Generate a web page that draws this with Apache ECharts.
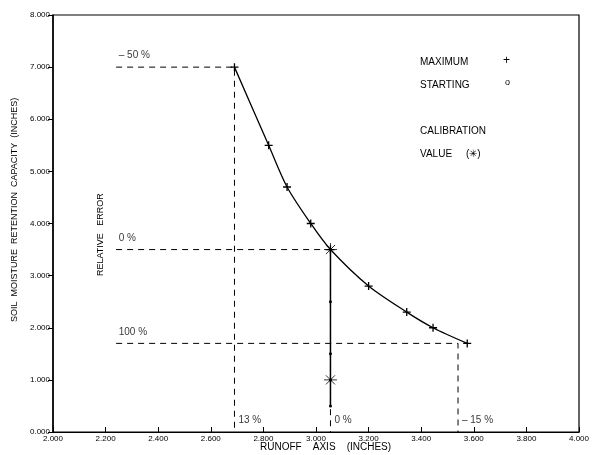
<!DOCTYPE html>
<html>
	<head>
		<meta charset="utf-8">
		<script src="https://cdn.jsdelivr.net/npm/echarts@6/dist/echarts.min.js"></script>
		<title></title>
		<style>
			body { margin: 0; background: #fff; }
		</style>
	</head>
	<body>
		<div id="main" style="width: 593px;height:455px;"></div>
		<script type="text/javascript">
			// maximum (+) curve
			var maxRunoff = [2.69, 2.82, 2.89, 2.98, 3.055, 3.20, 3.345, 3.445, 3.575];
			var maxCapacity = [7.0, 5.5, 4.7, 4.0, 3.5, 2.8, 2.3, 2.0, 1.7];
			// starting (o) values
			var startRunoff = [3.055, 3.055, 3.055, 3.055, 3.055];
			var startCapacity = [3.5, 2.5, 1.5, 1.0, 0.5];
			// calibration value (*)
			var calibRunoff = [3.055, 3.055];
			var calibCapacity = [3.5, 1.0];
			// relative error guide lines: start of horizontal, level, corner runoff
			var guideLevel = [7.0, 3.5, 1.7];
			var guideCorner = [2.69, 3.055, 3.54];
			var guideStart = 2.24;
			var levelLabels = ['\u2013 50 %', '0 %', '100 %'];
			var cornerLabels = ['13 %', '0 %', '\u2013 15 %'];

			var font = 'Liberation Sans';

			function pairs(xs, ys) {
				return xs.map(function(x, i) { return [x, ys[i]]; });
			}

			var guideSeries = guideLevel.map(function(lv, i) {
				return {
					type: 'line',
					data: [[guideStart, lv], [guideCorner[i], lv], [guideCorner[i], 0]],
					symbol: 'none',
					silent: true,
					z: 1,
					lineStyle: { color: '#000', width: 1, type: [6, 5] }
				};
			});

			var labelData = [];
			levelLabels.forEach(function(t, i) {
				labelData.push({ value: [guideStart + 0.01, guideLevel[i] + 0.22], name: t });
			});
			cornerLabels.forEach(function(t, i) {
				labelData.push({ value: [guideCorner[i] + 0.015, 0.22], name: t });
			});

			var plus = 'path://M5 0 L5 10 M0 5 L10 5';
			var star = 'path://M10 0 L10 20 M0 10 L20 10 M3 3 L17 17 M3 17 L17 3';

			var myChart = echarts.init(document.getElementById('main'));

			var option = {
				animation: false,
				backgroundColor: '#fff',
				grid: { left: 53, right: 14, top: 15, bottom: 23, show: true, borderColor: '#000', borderWidth: 1.2 },
				xAxis: {
					type: 'value', min: 2, max: 4, interval: 0.2,
					splitLine: { show: false },
					axisLine: { lineStyle: { color: '#000', width: 1.2 } },
					axisTick: { inside: true, length: 5, lineStyle: { color: '#000' } },
					axisLabel: {
						color: '#000', fontSize: 8, fontFamily: font, margin: 3,
						formatter: function(v) { return v.toFixed(3); }
					}
				},
				yAxis: {
					type: 'value', min: 0, max: 8, interval: 1,
					splitLine: { show: false },
					axisLine: { lineStyle: { color: '#000', width: 1.5 } },
					axisTick: { length: 5, lineStyle: { color: '#000' } },
					axisLabel: {
						color: '#000', fontSize: 8, fontFamily: font, margin: 3,
						formatter: function(v) { return v.toFixed(3); }
					}
				},
				graphic: [
					{ type: 'text', left: 420, top: 57, style: { text: 'MAXIMUM', fill: '#000', font: '10px ' + font } },
					{ type: 'text', left: 503, top: 55, style: { text: '+', fill: '#000', font: '12px ' + font } },
					{ type: 'text', left: 420, top: 80, style: { text: 'STARTING', fill: '#000', font: '10px ' + font } },
					{ type: 'text', left: 505, top: 78, style: { text: 'o', fill: '#000', font: '9px ' + font } },
					{ type: 'text', left: 420, top: 126, style: { text: 'CALIBRATION', fill: '#000', font: '10px ' + font } },
					{ type: 'text', left: 420, top: 149, style: { text: 'VALUE     (\u2733)', fill: '#000', font: '10px ' + font } },
					{ type: 'text', x: 10, y: 322, rotation: Math.PI / 2, style: { text: 'SOIL  MOISTURE  RETENTION  CAPACITY  (INCHES)', fill: '#000', font: '9px ' + font } },
					{ type: 'text', x: 96, y: 276, rotation: Math.PI / 2, style: { text: 'RELATIVE   ERROR', fill: '#000', font: '9px ' + font } },
					{ type: 'text', left: 260, top: 442, style: { text: 'RUNOFF    AXIS    (INCHES)', fill: '#000', font: '10px ' + font } }
				],
				series: guideSeries.concat([
					{
						name: 'MAXIMUM',
						type: 'line',
						smooth: 0.3,
						data: pairs(maxRunoff, maxCapacity),
						symbol: plus,
						symbolSize: 8,
						itemStyle: { color: 'transparent', borderColor: '#000', borderWidth: 1.3 },
						lineStyle: { color: '#000', width: 1.3 },
						z: 3
					},
					{
						name: 'STARTING',
						type: 'line',
						data: pairs(startRunoff, startCapacity),
						symbol: 'circle',
						symbolSize: 3,
						itemStyle: { color: '#000' },
						lineStyle: { color: '#000', width: 1.5 },
						z: 3
					},
					{
						name: 'CALIBRATION',
						type: 'scatter',
						data: pairs(calibRunoff, calibCapacity),
						symbol: star,
						symbolSize: 13,
						itemStyle: { color: 'transparent', borderColor: '#000', borderWidth: 1 },
						z: 4
					},
					{
						type: 'scatter',
						data: labelData,
						symbol: 'circle',
						symbolSize: 0,
						silent: true,
						itemStyle: { color: 'transparent' },
						label: {
							show: true, position: 'right', distance: 0,
							formatter: function(p) { return p.name; },
							color: '#000', fontSize: 10, fontFamily: font
						},
						z: 5
					}
				])
			};

			myChart.setOption(option);
		</script>
	</body>
</html>
